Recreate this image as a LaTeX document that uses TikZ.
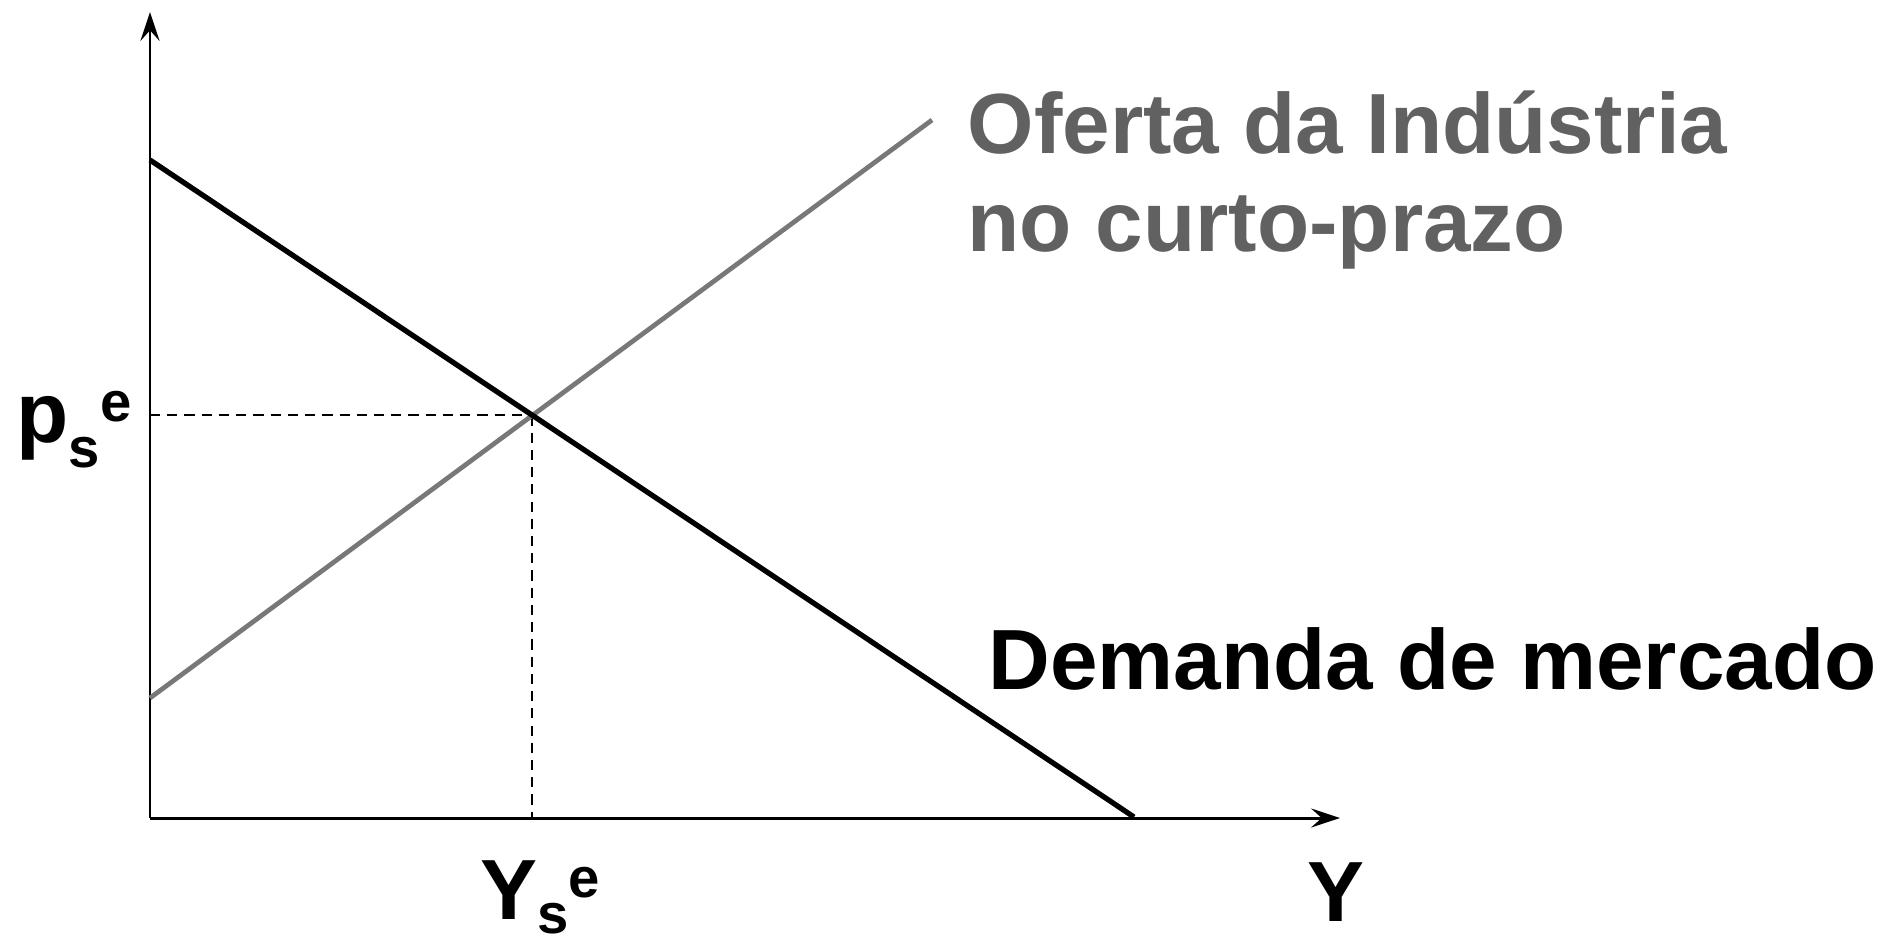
\documentclass[tikz,border=0pt]{standalone}
\usepackage{fontspec}
\setmainfont{Liberation Sans}
\usetikzlibrary{arrows.meta}
\definecolor{supplygray}{gray}{0.47}
\definecolor{labelgray}{gray}{0.38}
\newcommand{\bigfont}{\fontsize{24.3}{28}\selectfont\bfseries}
\newcommand{\subfont}{\fontsize{16}{18}\selectfont\bfseries}
\begin{document}
\begin{tikzpicture}[x=0.01cm,y=-0.01cm,
  axis/.style={line width=0.85pt,-{Stealth[length=8.2pt,width=5.4pt,inset=3pt]}},
  demand/.style={line width=1.5pt,black},
  supply/.style={line width=1.35pt,supplygray},
  guide/.style={line width=0.6pt,dash pattern=on 2.9pt off 2pt},
  lbl/.style={inner sep=0pt,font=\bigfont},
]
\useasboundingbox (0,0) rectangle (1893,944);
\coordinate (O) at (150,818);
\coordinate (ytop) at (150,12);
\coordinate (xend) at (1340,818);
\coordinate (D1) at (150,160);
\coordinate (D2) at (1134,817);
\coordinate (S1) at (150,698);
\coordinate (S2) at (932,120);
\coordinate (E) at (intersection of D1--D2 and S1--S2);

\draw[axis] (O) -- (ytop);
\draw[axis] (O) -- (xend);
\draw[guide] (E -| O) -- (E);
\draw[guide] (E) -- (E |- O);
\draw[supply] (S1) -- (S2);
\draw[demand] (D1) -- (D2);

\node[lbl,anchor=base west] (plab) at (16,442) {p\raisebox{-25\dimexpr0.01cm\relax}{\subfont s}\raisebox{21\dimexpr0.01cm\relax}{\subfont e}};
\node[lbl,anchor=base west] (ylab) at (480,919) {Y\raisebox{-14\dimexpr0.01cm\relax}{\subfont s}\raisebox{22\dimexpr0.01cm\relax}{\subfont e}};
\node[lbl,anchor=base] (yaxis) at (1336,921) {Y};
\node[lbl,anchor=base west,text=labelgray] (sup1) at (967,153) {Oferta da Indústria};
\node[lbl,anchor=base west,text=labelgray] (sup2) at (967,251) {no curto-prazo};
\node[lbl,anchor=base west] (dem) at (988,689) {Demanda de mercado};
\end{tikzpicture}
\end{document}
